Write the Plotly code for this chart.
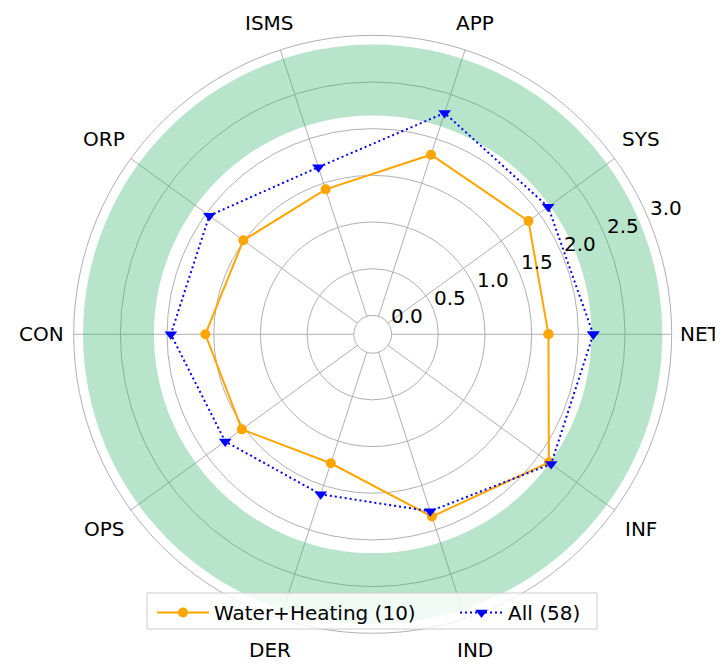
import math
import plotly.graph_objects as go

categories = ["NET", "SYS", "APP", "ISMS", "ORP", "CON", "OPS", "DER", "IND", "INF"]
angles = [0, 36, 72, 108, 144, 180, 216, 252, 288, 324]
water_heating = [1.68, 1.86, 1.82, 1.43, 1.51, 1.59, 1.53, 1.25, 1.85, 2.13]
all_sectors = [2.16, 2.12, 2.29, 1.68, 1.96, 1.96, 1.75, 1.60, 1.79, 2.16]
band_low, band_high = 2.14, 2.90
radial_ticks = [0.0, 0.5, 1.0, 1.5, 2.0, 2.5, 3.0]
series_names = ["Water+Heating (10)", "All (58)"]

# page body has an 8px margin, so the figure is sized to fit the window
W, H = 715, 656
OFF = 8
cx, cy, R = 364.7, 326.3, 299.0
HOLE = 18.9
RMAX = 3.0
FS = 20

def to_paper(px, py):
    return px / W, 1 - py / H

def rad_px(r):
    return HOLE + r * (R - HOLE) / RMAX

fig = go.Figure()

fig.add_trace(go.Barpolar(
    r=[band_high - band_low], base=[band_low], theta=[0], width=[360],
    marker=dict(color="rgba(60,179,113,0.36)", line=dict(width=0)),
    showlegend=False, hoverinfo="skip",
))

def closed(v):
    return list(v) + [v[0]]

fig.add_trace(go.Scatterpolar(
    r=closed(water_heating), theta=closed(angles), mode="lines+markers",
    name=series_names[0], legend="legend",
    line=dict(color="#FFA500", width=2),
    marker=dict(symbol="circle", size=10, color="#FFA500"),
))
fig.add_trace(go.Scatterpolar(
    r=closed(all_sectors), theta=closed(angles), mode="lines+markers",
    name=series_names[1], legend="legend2",
    line=dict(color="blue", width=2, dash="2px,3px"),
    marker=dict(symbol="triangle-down", size=11, color="blue"),
))

annotations = []
# category labels, centred at a fixed distance outside the frame
for name, a in zip(categories, angles):
    s = math.sin(math.radians(a))
    d = R + 32 + 1.5 * abs(s)
    px = cx + d * math.cos(math.radians(a))
    py = max(cy - d * s, 15)
    x, y = to_paper(px, py)
    xanchor = "center"
    half = 0.72 * FS * len(name) / 2
    if px + half > W - 1:
        x, xanchor = 1.0, "right"
    annotations.append(dict(x=x, y=y, xref="paper", yref="paper", text=name,
                            showarrow=False, xanchor=xanchor, yanchor="middle",
                            font=dict(size=FS, color="black")))
# radial tick labels along 22.5 degrees
for v in radial_ticks:
    d = rad_px(v)
    px = cx + d * math.cos(math.radians(22.5)) + 17
    py = cy - d * math.sin(math.radians(22.5)) - 11.5
    x, y = to_paper(px, py)
    annotations.append(dict(x=x, y=y, xref="paper", yref="paper", text=f"{v:.1f}",
                            showarrow=False, xanchor="center", yanchor="middle",
                            font=dict(size=FS, color="black")))

dx0, dy1 = to_paper(cx - R, cy - R)
dx1, dy0 = to_paper(cx + R, cy + R)

# legend frame (drawn as a shape so its size can follow the reference)
lx0, ly0 = to_paper(147 - OFF, 629 - OFF)
lx1, ly1 = to_paper(597 - OFF, 593 - OFF)

legend_common = dict(
    orientation="h", yanchor="top", y=1 - (593 - OFF) / H, xanchor="left",
    bgcolor="rgba(0,0,0,0)", borderwidth=0, font=dict(size=FS),
)

fig.update_layout(
    width=W, height=H,
    margin=dict(l=0, r=0, t=0, b=0),
    paper_bgcolor="white",
    font=dict(family="DejaVu Sans", size=FS, color="black"),
    annotations=annotations,
    shapes=[dict(type="rect", xref="paper", yref="paper", x0=lx0, x1=lx1, y0=ly0, y1=ly1,
                 fillcolor="rgba(255,255,255,0.8)", line=dict(color="#cccccc", width=1),
                 layer="above")],
    polar=dict(
        domain=dict(x=[dx0, dx1], y=[dy0, dy1]),
        bgcolor="white",
        hole=HOLE / R,
        barmode="overlay",
        radialaxis=dict(
            range=[0, RMAX], tickmode="array", tickvals=radial_ticks,
            showticklabels=False, angle=22.5, showline=False, ticks="",
            gridcolor="#b0b0b0", gridwidth=0.8,
        ),
        angularaxis=dict(
            tickmode="array", tickvals=angles, ticktext=categories,
            showticklabels=False,
            rotation=0, direction="counterclockwise",
            gridcolor="#b0b0b0", gridwidth=0.8,
            linecolor="#b0b0b0", linewidth=1, ticks="",
        ),
    ),
    legend=dict(legend_common, x=(152 - OFF) / W, itemwidth=52),
    legend2=dict(legend_common, x=(455 - OFF) / W, itemwidth=43),
)

fig.write_html("out.html")
